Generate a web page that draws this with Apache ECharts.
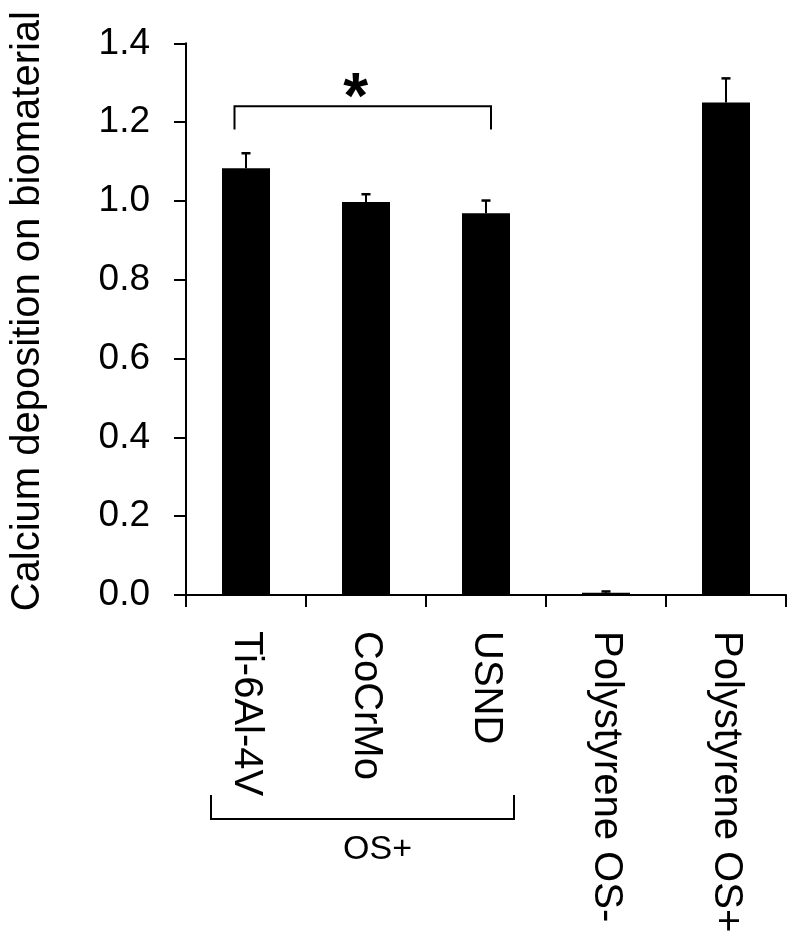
<!DOCTYPE html>
<html>
<head>
<meta charset="utf-8">
<script src="https://cdn.jsdelivr.net/npm/echarts@6/dist/echarts.min.js"></script>
<style>
html,body{margin:0;padding:0;background:#fff;}
#chart{width:800px;height:949px;}
</style>
</head>
<body>
<div id="chart"></div>
<script>
// ---- data ----
const categories = ['Ti-6Al-4V', 'CoCrMo', 'USND', 'Polystyrene OS-', 'Polystyrene OS+'];
const means = [1.083, 0.997, 0.969, 0.006, 1.250];
const errors = [0.038, 0.020, 0.032, 0.003, 0.061];
const yMin = 0, yMax = 1.4, yStep = 0.2;
const yTitle = 'Calcium deposition on biomaterial';
// significance bracket: [fromCategory, toCategory, barY, legY]
const sigBracket = [[0, 2, 1.240, 1.181]];
const sigLabel = '*';
const groupLabel = 'OS+';
const groupRange = [0, 2];

const FONT = '"Liberation Sans", Arial, Helvetica, sans-serif';
const chart = echarts.init(document.getElementById('chart'), null, {renderer: 'canvas'});

const option = {
  animation: false,
  backgroundColor: '#fff',
  grid: {left: 185, right: 14, top: 43.3, bottom: 354, containLabel: false},
  xAxis: {
    type: 'category',
    data: categories,
    boundaryGap: true,
    axisLine: {lineStyle: {color: '#000', width: 2}},
    axisTick: {show: true, length: 12, lineStyle: {color: '#000', width: 2}},
    axisLabel: {rotate: -90, margin: 36, color: '#000', fontSize: 40, fontFamily: FONT, interval: 0}
  },
  yAxis: {
    type: 'value',
    min: yMin, max: yMax, interval: yStep,
    name: yTitle,
    nameLocation: 'middle',
    nameRotate: 90,
    nameGap: 138,
    nameTextStyle: {color: '#000', fontSize: 40, fontFamily: FONT, padding: [0, 0, 0, 16]},
    axisLine: {show: true, lineStyle: {color: '#000', width: 2}},
    axisTick: {show: true, length: 12, lineStyle: {color: '#000', width: 2}},
    splitLine: {show: false},
    axisLabel: {margin: 36, color: '#000', fontSize: 37, fontFamily: FONT,
      formatter: v => v.toFixed(1)}
  },
  series: [
    {
      type: 'bar',
      data: means,
      barWidth: 48,
      itemStyle: {color: '#000'},
      z: 2
    },
    {
      type: 'custom',
      data: categories.map((c, i) => [i, means[i], means[i] + errors[i]]),
      renderItem: function (params, api) {
        const i = api.value(0);
        const base = api.coord([i, api.value(1)]);
        const top = api.coord([i, api.value(2)]);
        return {
          type: 'group',
          children: [
            {type: 'line', shape: {x1: base[0], y1: base[1], x2: top[0], y2: top[1]},
             style: {stroke: '#000', lineWidth: 2}},
            {type: 'line', shape: {x1: top[0] - 4.5, y1: top[1], x2: top[0] + 4.5, y2: top[1]},
             style: {stroke: '#000', lineWidth: 2.5}}
          ]
        };
      },
      z: 3
    },
    {
      type: 'custom',
      data: sigBracket,
      clip: false,
      renderItem: function (params, api) {
        const a = api.coord([api.value(0), api.value(2)]);
        const b = api.coord([api.value(1), api.value(2)]);
        const la = api.coord([api.value(0), api.value(3)]);
        const x1 = a[0] - 11.5, x2 = b[0] + 5;
        return {
          type: 'group',
          children: [
            {type: 'polyline', shape: {points: [[x1, la[1]], [x1, a[1]], [x2, a[1]], [x2, la[1]]]},
             style: {stroke: '#000', lineWidth: 2, fill: null}},
            {type: 'text', style: {text: sigLabel, x: (x1 + x2) / 2 - 7, y: a[1] - 6,
              fontSize: 64, fontWeight: 'bold', fontFamily: FONT, fill: '#000',
              textAlign: 'center', textVerticalAlign: 'middle'}}
          ]
        };
      },
      z: 4
    }
  ]
};
chart.setOption(option);

// group bracket under labels
const gx1 = chart.convertToPixel({xAxisIndex: 0}, categories[groupRange[0]]) - 35;
const gx2 = chart.convertToPixel({xAxisIndex: 0}, categories[groupRange[1]]) + 28;
chart.setOption({
  graphic: [
    {type: 'polyline', shape: {points: [[gx1, 795], [gx1, 819], [gx2, 819], [gx2, 795]]},
     style: {stroke: '#000', lineWidth: 2, fill: null}},
    {type: 'text', x: (gx1 + gx2) / 2 + 15, y: 850,
     style: {text: groupLabel, fontSize: 34, fontFamily: FONT, fill: '#000',
       textAlign: 'center', textVerticalAlign: 'middle'}}
  ]
});
</script>
</body>
</html>
